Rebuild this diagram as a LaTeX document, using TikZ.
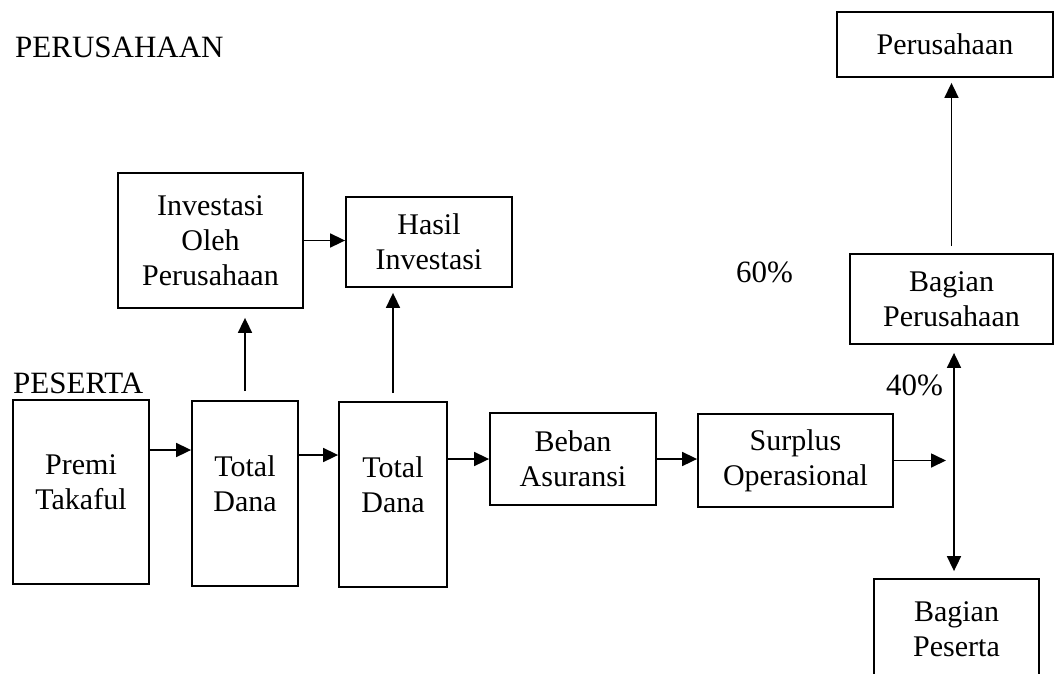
\documentclass[tikz,border=0pt]{standalone}
\usepackage{fontspec}
\setmainfont{Liberation Serif}
\usetikzlibrary{arrows.meta}
\begin{document}
\begin{tikzpicture}[x=1pt,y=-1pt,
  box/.style={draw,line width=1.8pt,align=center,inner sep=0pt,
    font=\fontsize{30}{35}\selectfont},
  lbl/.style={anchor=base west,inner sep=0pt,font=\fontsize{31}{36}\selectfont},
  arr/.style={line width=1.7pt,-{Triangle[length=15pt,width=14pt]}},
  arrb/.style={line width=1.7pt,{Triangle[length=15pt,width=14pt]}-{Triangle[length=15pt,width=14pt]}}]
\path[use as bounding box,clip] (0,0) rectangle (1055,673);
\node[box,minimum width=136pt,minimum height=184pt] (premi) at (81,492) {Premi\\Takaful\\[-15pt]\mbox{}};
\node[box,minimum width=106pt,minimum height=185pt] (td1) at (245,493.5) {Total\\Dana\\[-15pt]\mbox{}};
\node[box,minimum width=108pt,minimum height=185pt] (td2) at (393,494.5) {Total\\Dana\\[-15pt]\mbox{}};
\node[box,minimum width=166pt,minimum height=92pt] (beban) at (573,459) {Beban\\Asuransi};
\node[box,minimum width=195pt,minimum height=93pt] (surplus) at (795.5,460.5) {Surplus\\Operasional};
\node[box,minimum width=185pt,minimum height=135pt] (inv) at (210.5,240.5) {Investasi\\Oleh\\Perusahaan};
\node[box,minimum width=166pt,minimum height=90pt] (hasil) at (429,242) {Hasil\\Investasi};
\node[box,minimum width=216pt,minimum height=65pt] (perus) at (945,44.5) {Perusahaan};
\node[box,minimum width=203pt,minimum height=90pt] (bpers) at (951.5,299) {Bagian\\Perusahaan};
\node[box,minimum width=165pt,minimum height=101pt] (bpes) at (956.5,629.5) {Bagian\\Peserta};
\coordinate (split) at (954,463);
\coordinate (p1) at ([yshift=42pt]premi.east);
\coordinate (p2) at ([yshift=38.5pt]td1.east);

\node[lbl] (tperus) at (15,57) {PERUSAHAAN};
\node[lbl] (tpes) at (13,393) {PESERTA};
\node[lbl] (t60) at (736,282) {60\%};
\node[lbl] (t40) at (886,395) {40\%};

\draw[arr] (p1) -- (td1.west |- p1);
\draw[arr] (p2) -- (td2.west |- p2);
\draw[arr] (td2.east |- beban.west) -- (beban.west);
\draw[arr] (beban.east) -- (surplus.west |- beban.east);
\draw[arr,shorten >=8pt] (surplus.east) -- (split |- surplus.east);
\draw[arrb,shorten <=8pt,shorten >=7pt] (bpers.south -| split) -- (bpes.north -| split);
\draw[arr,shorten <=7pt,shorten >=5pt] (bpers.north) -- (bpers.north |- perus.south);
\draw[arr,shorten <=9pt,shorten >=9pt] (td1.north) -- (td1.north |- inv.south);
\draw[arr,shorten <=8pt,shorten >=5pt] (td2.north) -- (td2.north |- hasil.south);
\draw[arr] (inv.east) -- (hasil.west |- inv.east);
\end{tikzpicture}
\end{document}
